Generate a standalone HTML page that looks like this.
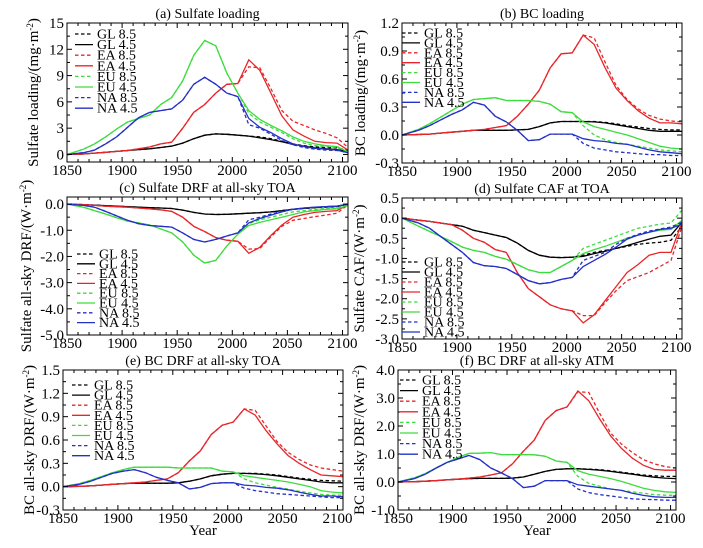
<!DOCTYPE html>
<html><head><meta charset="utf-8">
<style>
html,body{margin:0;padding:0;background:#fff;}
svg{display:block;font-family:"Liberation Serif",serif;}
</style></head>
<body>
<svg id="fig" width="703" height="548" viewBox="0 0 703 548" xmlns="http://www.w3.org/2000/svg"></svg>
<script>
const years = [1850,1865,1875,1885,1895,1905,1915,1925,1935,1945,1955,1965,1975,1985,1995,2005,2015,2025,2035,2045,2055,2065,2075,2085,2095,2105];
const seriesNames = ["GL 8.5","GL 4.5","EA 8.5","EA 4.5","EU 8.5","EU 4.5","NA 8.5","NA 4.5"];
const seriesColors = ["#000","#000","#e8262a","#e8262a","#3ddc3d","#3ddc3d","#2430c8","#2430c8"];

// (a) Sulfate loading
const aGL45 = [0,0.05,0.15,0.25,0.35,0.45,0.55,0.65,0.8,0.95,1.3,1.8,2.2,2.35,2.3,2.2,2.1,1.9,1.7,1.45,1.15,0.95,0.75,0.65,0.55,0.35];
const aGL85 = [0,0.05,0.15,0.25,0.35,0.45,0.55,0.65,0.8,0.95,1.3,1.8,2.2,2.35,2.3,2.2,2.1,2.0,1.8,1.5,1.2,1.0,0.85,0.8,0.75,0.5];
const aEA45 = [0,0.05,0.15,0.25,0.35,0.45,0.65,0.85,1.2,1.4,3,4.8,5.7,7,8,8.1,10.8,9.6,7,4.4,2.8,2.1,1.5,1.35,1.3,0.5];
const aEA85 = [0,0.05,0.15,0.25,0.35,0.45,0.65,0.85,1.2,1.4,3,4.8,5.7,7,8,8.1,10,9.9,7.5,5,3.8,3.3,2.8,2.4,1.9,0.8];
const aEU45 = [0,0.6,1.2,2,2.9,3.7,4.1,4.5,5.7,6.5,8.4,11.3,13,12.4,9.3,7,5,4,3.3,2.7,2,1.5,1.2,1.0,0.9,0.3];
const aEU85 = [0,0.6,1.2,2,2.9,3.7,4.1,4.5,5.7,6.5,8.4,11.3,13,12.4,9.3,7,4.7,3.7,3.1,2.5,1.8,1.3,1.0,0.9,0.8,0.3];
const aNA45 = [0,0.2,0.5,1.2,2,3.1,4.2,4.8,5,5.2,6.2,8,8.8,8,7,6.6,4.1,3.1,2.5,1.8,1.2,0.9,0.7,0.6,0.5,0.2];
const aNA85 = [0,0.2,0.5,1.2,2,3.1,4.2,4.8,5,5.2,6.2,8,8.8,8,7,6.6,3.4,3.0,2.3,1.6,1.1,0.8,0.6,0.5,0.45,0.2];
const aTicks = [0,3,6,9,12,15];
const aTickLabels = ["0","3","6","9","12","15"];

// (b) BC loading
const bGL45 = [0,0.005,0.01,0.02,0.03,0.04,0.05,0.05,0.05,0.05,0.055,0.06,0.09,0.13,0.145,0.145,0.145,0.14,0.13,0.11,0.09,0.07,0.05,0.04,0.04,0.04];
const bGL85 = [0,0.005,0.01,0.02,0.03,0.04,0.05,0.05,0.05,0.05,0.055,0.06,0.09,0.13,0.145,0.145,0.145,0.145,0.135,0.12,0.1,0.085,0.07,0.06,0.055,0.055];
const bEA45 = [0,0.005,0.01,0.02,0.03,0.04,0.05,0.06,0.08,0.1,0.2,0.33,0.48,0.72,0.87,0.88,1.07,0.97,0.72,0.5,0.37,0.26,0.18,0.13,0.13,0.12];
const bEA85 = [0,0.005,0.01,0.02,0.03,0.04,0.05,0.06,0.08,0.1,0.2,0.33,0.48,0.72,0.87,0.88,1.07,1.04,0.78,0.53,0.38,0.28,0.21,0.17,0.15,0.14];
const bEU45 = [0,0.06,0.12,0.19,0.26,0.33,0.38,0.39,0.4,0.37,0.37,0.37,0.36,0.33,0.25,0.24,0.14,0.09,0.06,0.03,0.0,-0.04,-0.08,-0.12,-0.14,-0.15];
const bEU85 = [0,0.06,0.12,0.19,0.26,0.33,0.38,0.39,0.4,0.37,0.37,0.37,0.36,0.33,0.25,0.24,0.1,0.0,-0.05,-0.08,-0.1,-0.12,-0.14,-0.16,-0.17,-0.18];
const bNA45 = [0,0.05,0.1,0.16,0.22,0.27,0.35,0.32,0.2,0.14,0.05,-0.06,-0.05,0.01,0.01,0.01,-0.04,-0.06,-0.07,-0.09,-0.1,-0.13,-0.16,-0.18,-0.19,-0.2];
const bNA85 = [0,0.05,0.1,0.16,0.22,0.27,0.35,0.32,0.2,0.14,0.05,-0.06,-0.05,0.01,0.01,0.01,-0.09,-0.14,-0.16,-0.18,-0.19,-0.2,-0.21,-0.21,-0.22,-0.22];
const bTicks = [-0.3,0,0.3,0.6,0.9,1.2];
const bTickLabels = ["-0.3","0.0","0.3","0.6","0.9","1.2"];

// (c) Sulfate DRF TOA
const cGL45 = [0,-0.02,-0.04,-0.06,-0.08,-0.1,-0.12,-0.14,-0.15,-0.17,-0.23,-0.32,-0.38,-0.4,-0.39,-0.37,-0.35,-0.33,-0.3,-0.25,-0.2,-0.16,-0.13,-0.1,-0.08,0];
const cGL85 = [0,-0.02,-0.04,-0.06,-0.08,-0.1,-0.12,-0.14,-0.15,-0.17,-0.23,-0.32,-0.38,-0.4,-0.39,-0.37,-0.35,-0.33,-0.3,-0.25,-0.2,-0.17,-0.14,-0.12,-0.1,0];
const cEA45 = [0,-0.02,-0.05,-0.08,-0.1,-0.12,-0.15,-0.18,-0.22,-0.28,-0.5,-0.85,-1.05,-1.28,-1.38,-1.42,-1.88,-1.65,-1.2,-0.8,-0.5,-0.4,-0.32,-0.28,-0.25,-0.02];
const cEA85 = [0,-0.02,-0.05,-0.08,-0.1,-0.12,-0.15,-0.18,-0.22,-0.28,-0.5,-0.85,-1.05,-1.28,-1.38,-1.42,-1.72,-1.7,-1.25,-0.85,-0.62,-0.55,-0.48,-0.42,-0.35,-0.03];
const cEU45 = [0,-0.12,-0.25,-0.38,-0.52,-0.65,-0.72,-0.8,-0.95,-1.1,-1.45,-1.95,-2.25,-2.15,-1.6,-1.15,-0.82,-0.7,-0.6,-0.5,-0.4,-0.3,-0.25,-0.2,-0.18,-0.05];
const cEU85 = [0,-0.12,-0.25,-0.38,-0.52,-0.65,-0.72,-0.8,-0.95,-1.1,-1.45,-1.95,-2.25,-2.15,-1.6,-1.15,-0.75,-0.6,-0.5,-0.4,-0.3,-0.25,-0.2,-0.17,-0.15,-0.05];
const cNA45 = [0,-0.05,-0.12,-0.28,-0.45,-0.62,-0.75,-0.82,-0.85,-0.88,-1.1,-1.35,-1.45,-1.35,-1.22,-1.1,-0.72,-0.55,-0.42,-0.3,-0.2,-0.15,-0.12,-0.1,-0.08,0];
const cNA85 = [0,-0.05,-0.12,-0.28,-0.45,-0.62,-0.75,-0.82,-0.85,-0.88,-1.1,-1.35,-1.45,-1.35,-1.22,-1.1,-0.6,-0.5,-0.38,-0.28,-0.2,-0.15,-0.12,-0.1,-0.08,0];
const cTicks = [-5,-4,-3,-2,-1,0];
const cTickLabels = ["-5.0","-4.0","-3.0","-2.0","-1.0","0.0"];

// (d) Sulfate CAF TOA
const dGL45 = [0,-0.05,-0.08,-0.12,-0.16,-0.2,-0.3,-0.36,-0.42,-0.48,-0.62,-0.8,-0.92,-0.97,-0.98,-0.97,-0.95,-0.88,-0.82,-0.75,-0.68,-0.6,-0.52,-0.45,-0.42,-0.1];
const dGL85 = [0,-0.05,-0.08,-0.12,-0.16,-0.2,-0.3,-0.36,-0.42,-0.48,-0.62,-0.8,-0.92,-0.97,-0.98,-0.97,-0.92,-0.85,-0.8,-0.75,-0.7,-0.65,-0.62,-0.6,-0.55,-0.2];
const dEA45 = [0,-0.05,-0.08,-0.12,-0.16,-0.3,-0.5,-0.6,-0.78,-0.85,-1.35,-1.75,-1.95,-2.15,-2.25,-2.3,-2.6,-2.4,-2.05,-1.7,-1.35,-1.15,-0.92,-0.85,-0.85,-0.1];
const dEA85 = [0,-0.05,-0.08,-0.12,-0.16,-0.3,-0.5,-0.6,-0.78,-0.85,-1.35,-1.75,-1.95,-2.15,-2.25,-2.3,-2.42,-2.42,-2.1,-1.8,-1.55,-1.45,-1.35,-1.2,-1.05,-0.2];
const dEU45 = [0,-0.2,-0.33,-0.45,-0.58,-0.72,-0.8,-0.85,-0.95,-1.02,-1.15,-1.28,-1.35,-1.35,-1.2,-1.05,-0.88,-0.78,-0.7,-0.6,-0.5,-0.42,-0.35,-0.3,-0.28,-0.05];
const dEU85 = [0,-0.2,-0.33,-0.45,-0.58,-0.72,-0.8,-0.85,-0.95,-1.02,-1.15,-1.28,-1.35,-1.35,-1.2,-1.05,-0.75,-0.65,-0.55,-0.45,-0.35,-0.25,-0.2,-0.15,-0.12,0.2];
const dNA45 = [0,-0.12,-0.25,-0.45,-0.65,-0.85,-1.1,-1.18,-1.2,-1.25,-1.4,-1.55,-1.63,-1.6,-1.52,-1.47,-1.2,-1.05,-0.9,-0.72,-0.52,-0.42,-0.35,-0.28,-0.25,-0.15];
const dNA85 = [0,-0.12,-0.25,-0.45,-0.65,-0.85,-1.1,-1.18,-1.2,-1.25,-1.4,-1.55,-1.63,-1.6,-1.52,-1.47,-1.05,-0.95,-0.85,-0.65,-0.5,-0.4,-0.32,-0.27,-0.22,-0.1];
const dTicks = [-3,-2.5,-2,-1.5,-1,-0.5,0,0.5];
const dTickLabels = ["-3.0","-2.5","-2.0","-1.5","-1.0","-0.5","0.0","0.5"];

// (e) BC DRF TOA
const eGL45 = [0,0.005,0.01,0.02,0.03,0.04,0.045,0.045,0.045,0.045,0.05,0.07,0.1,0.14,0.16,0.17,0.17,0.165,0.155,0.14,0.12,0.1,0.08,0.06,0.05,0.05];
const eGL85 = [0,0.005,0.01,0.02,0.03,0.04,0.045,0.045,0.045,0.045,0.05,0.07,0.1,0.14,0.16,0.17,0.17,0.17,0.16,0.15,0.13,0.11,0.095,0.08,0.075,0.07];
const eEA45 = [0,0.005,0.01,0.02,0.03,0.04,0.05,0.06,0.08,0.1,0.18,0.33,0.46,0.67,0.79,0.83,1.0,0.92,0.72,0.55,0.4,0.3,0.22,0.15,0.14,0.13];
const eEA85 = [0,0.005,0.01,0.02,0.03,0.04,0.05,0.06,0.08,0.1,0.18,0.33,0.46,0.67,0.79,0.83,1.0,0.98,0.78,0.58,0.44,0.35,0.28,0.24,0.22,0.2];
const eEU45 = [0,0.04,0.08,0.13,0.18,0.22,0.25,0.25,0.25,0.25,0.24,0.24,0.24,0.24,0.2,0.19,0.14,0.12,0.1,0.08,0.06,0.03,0.0,-0.05,-0.07,-0.08];
const eEU85 = [0,0.04,0.08,0.13,0.18,0.22,0.25,0.25,0.25,0.25,0.24,0.24,0.24,0.24,0.2,0.19,0.1,0.05,0.02,-0.01,-0.03,-0.06,-0.08,-0.1,-0.11,-0.11];
const eNA45 = [0,0.03,0.07,0.12,0.17,0.2,0.22,0.18,0.12,0.08,0.05,-0.03,-0.01,0.04,0.05,0.05,0.02,0.01,-0.01,-0.02,-0.04,-0.07,-0.1,-0.12,-0.12,-0.13];
const eNA85 = [0,0.03,0.07,0.12,0.17,0.2,0.22,0.18,0.12,0.08,0.05,-0.03,-0.01,0.04,0.05,0.05,-0.02,-0.05,-0.07,-0.09,-0.1,-0.11,-0.12,-0.13,-0.14,-0.14];
const eTicks = [-0.3,0,0.3,0.6,0.9,1.2,1.5];
const eTickLabels = ["-0.3","0.0","0.3","0.6","0.9","1.2","1.5"];

// (f) BC DRF ATM
const fGL45 = [0,0.01,0.03,0.05,0.08,0.1,0.12,0.13,0.13,0.13,0.14,0.18,0.28,0.38,0.45,0.47,0.47,0.45,0.42,0.38,0.33,0.28,0.22,0.17,0.14,0.12];
const fGL85 = [0,0.01,0.03,0.05,0.08,0.1,0.12,0.13,0.13,0.13,0.14,0.18,0.28,0.38,0.45,0.47,0.47,0.46,0.44,0.4,0.35,0.3,0.25,0.22,0.2,0.2];
const fEA45 = [0,0.01,0.03,0.05,0.08,0.1,0.14,0.18,0.25,0.33,0.65,1.1,1.5,2.2,2.55,2.68,3.25,2.9,2.25,1.65,1.2,0.85,0.6,0.45,0.42,0.42];
const fEA85 = [0,0.01,0.03,0.05,0.08,0.1,0.14,0.18,0.25,0.33,0.65,1.1,1.5,2.2,2.55,2.68,3.22,3.2,2.45,1.75,1.35,1.05,0.8,0.65,0.55,0.5];
const fEU45 = [0,0.15,0.3,0.5,0.7,0.88,1.02,1.03,1.05,0.98,0.98,0.98,0.97,0.92,0.75,0.7,0.4,0.28,0.2,0.12,0.02,-0.1,-0.22,-0.3,-0.35,-0.37];
const fEU85 = [0,0.15,0.3,0.5,0.7,0.88,1.02,1.03,1.05,0.98,0.98,0.98,0.97,0.92,0.75,0.7,0.2,-0.05,-0.15,-0.25,-0.3,-0.35,-0.4,-0.45,-0.47,-0.48];
const fNA45 = [0,0.12,0.28,0.5,0.7,0.82,0.95,0.8,0.5,0.32,0.12,-0.2,-0.15,0.05,0.05,0.05,-0.1,-0.15,-0.2,-0.25,-0.3,-0.4,-0.48,-0.53,-0.55,-0.55];
const fNA85 = [0,0.12,0.28,0.5,0.7,0.82,0.95,0.8,0.5,0.32,0.12,-0.2,-0.15,0.05,0.05,0.05,-0.25,-0.38,-0.45,-0.5,-0.55,-0.6,-0.62,-0.63,-0.65,-0.65];
const fTicks = [-1,0,1,2,3,4];
const fTickLabels = ["-1.0","0.0","1.0","2.0","3.0","4.0"];

const xTicks = [1850,1900,1950,2000,2050,2100];

const NS = "http://www.w3.org/2000/svg";
const svg = document.getElementById("fig");
function mk(tag, attrs, parent){
  const e = document.createElementNS(NS, tag);
  for (const k in attrs) e.setAttribute(k, attrs[k]);
  (parent||svg).appendChild(e);
  return e;
}

const panels = [
  {id:"a", title:"(a) Sulfate loading", ylabel:"Sulfate loading/(mg·m", left:67,right:348,top:23,bottom:162,ymin:-0.86,ymax:15,minor:1.5,
   data:[aGL85,aGL45,aEA85,aEA45,aEU85,aEU45,aNA85,aNA45], ticks:aTicks, tl:aTickLabels, lx:75, ly:34, ls:10.6, yl:38, xlabel:false},
  {id:"b", title:"(b) BC loading", ylabel:"BC loading/(mg·m", left:402,right:682,top:23,bottom:163,ymin:-0.3,ymax:1.2,minor:0.15,
   data:[bGL85,bGL45,bEA85,bEA45,bEU85,bEU45,bNA85,bNA45], ticks:bTicks, tl:bTickLabels, lx:402, ly:33, ls:9.9, yl:365, xlabel:false},
  {id:"c", title:"(c) Sulfate DRF at all-sky TOA", ylabel:"Sulfate all-sky DRF/(W·m", left:67,right:348,top:197,bottom:335,ymin:-5,ymax:0.27,minor:0.5,
   data:[cGL85,cGL45,cEA85,cEA45,cEU85,cEU45,cNA85,cNA45], ticks:cTicks, tl:cTickLabels, lx:77, ly:254, ls:9.8, yl:31, xlabel:false},
  {id:"d", title:"(d) Sulfate CAF at TOA", ylabel:"Sulfate CAF/(W·m", left:402,right:682,top:198,bottom:339,ymin:-3,ymax:0.5,minor:0.25,
   data:[dGL85,dGL45,dEA85,dEA45,dEU85,dEU45,dNA85,dNA45], ticks:dTicks, tl:dTickLabels, lx:402, ly:262, ls:10, yl:364, xlabel:false},
  {id:"e", title:"(e) BC DRF at all-sky TOA", ylabel:"BC all-sky DRF/(W·m", left:63,right:343,top:370,bottom:510,ymin:-0.3,ymax:1.5,minor:0.15,
   data:[eGL85,eGL45,eEA85,eEA45,eEU85,eEU45,eNA85,eNA45], ticks:eTicks, tl:eTickLabels, lx:72, ly:385, ls:10.1, yl:34, xlabel:true},
  {id:"f", title:"(f) BC DRF at all-sky ATM", ylabel:"BC all-sky DRF/(W·m", left:398,right:676,top:370,bottom:510,ymin:-1,ymax:4,minor:0.5,
   data:[fGL85,fGL45,fEA85,fEA45,fEU85,fEU45,fNA85,fNA45], ticks:fTicks, tl:fTickLabels, lx:400, ly:380, ls:10.6, yl:364, xlabel:true}
];

panels.forEach(p=>{
  const g = mk("g",{});
  
  
  const X = v => p.left + (v-1850)/(2105-1850)*(p.right-p.left);
  const Y = v => p.bottom - (v-p.ymin)/(p.ymax-p.ymin)*(p.bottom-p.top);
  const t = mk("text",{x:(p.left+p.right)/2, y:p.top-5, "text-anchor":"middle","font-size":"14"}, g);
  t.textContent = p.title;
  
  
  p.data.forEach((arr,i)=>{
    const d = arr.map((v,k)=>(k?"L":"M")+X(years[k]).toFixed(1)+","+Y(v).toFixed(1)).join("");
    const path = mk("path",{d:d, fill:"none", stroke:seriesColors[i], "stroke-width":"1.3", "stroke-dasharray": i%2===0 ? "3.5,2.5" : "none"}, g);
    
    
  });
  const fr = mk("rect",{x:p.left, y:p.top, width:p.right-p.left, height:p.bottom-p.top, fill:"none", stroke:"#000","stroke-width":"1"}, g);
  
  
  for (let yr=1850; yr<=2100; yr+=10){
    const major = yr%50===0, len = major?5:3, x = X(yr);
    mk("line",{x1:x,x2:x,y1:p.bottom,y2:p.bottom-len,stroke:"#000","stroke-width":"1"}, g);
    mk("line",{x1:x,x2:x,y1:p.top,y2:p.top+len,stroke:"#000","stroke-width":"1"}, g);
  }
  xTicks.forEach(yr=>{
    const tx = mk("text",{x:X(yr), y:p.bottom+13, "text-anchor":"middle","font-size":"15"}, g);
    tx.textContent = yr;
    
    
  });
  const step = p.minor;
  for (let v=p.ticks[0]; v<=p.ymax+1e-9; v+=step){
    if (v < p.ymin-1e-9) continue;
    const isMajor = p.ticks.some(tk=>Math.abs(tk-v)<1e-6), len=isMajor?5:3, y=Y(v);
    mk("line",{x1:p.left,x2:p.left+len,y1:y,y2:y,stroke:"#000","stroke-width":"1"}, g);
    mk("line",{x1:p.right,x2:p.right-len,y1:y,y2:y,stroke:"#000","stroke-width":"1"}, g);
  }
  p.ticks.forEach((v,i)=>{
    const ty = mk("text",{x:p.left-3, y:Y(v)+5, "text-anchor":"end","font-size":"15"}, g);
    ty.textContent = p.tl[i];
    
    
  });
  const cy = (p.top+p.bottom)/2;
  const yl = mk("text",{x:p.yl, y:cy, "text-anchor":"middle","font-size":"15", transform:`rotate(-90 ${p.yl} ${cy})`}, g);
  yl.textContent = p.ylabel;
  const sup = mk("tspan",{"baseline-shift":"super","font-size":"9"}, yl);
  sup.textContent = "-2";
  const cl = mk("tspan",{}, yl);
  cl.textContent = ")";
  
  
  if (p.xlabel){
    const xl = mk("text",{x:(p.left+p.right)/2, y:535, "text-anchor":"middle","font-size":"15"}, g);
    xl.textContent = "Year";
    
    
  }
  const lg = mk("g",{}, g);
  
  
  seriesNames.forEach((n,i)=>{
    const y = p.ly + i*p.ls;
    const ent = mk("g",{}, lg);
    
    
    mk("line",{x1:p.lx,x2:p.lx+18,y1:y,y2:y,stroke:seriesColors[i],"stroke-width":"1.3","stroke-dasharray": i%2===0?"3.5,2.5":"none"}, ent);
    const lt = mk("text",{x:p.lx+22, y:y+4.5, "font-size":"14"}, ent);
    lt.textContent = n;
  });
});
</script>
</body></html>
